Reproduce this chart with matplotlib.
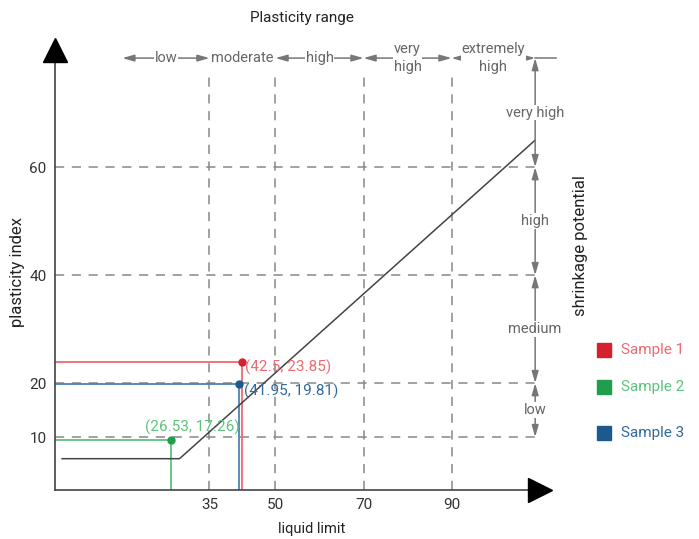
import numpy as np
import matplotlib.pyplot as plt
from matplotlib.patches import Rectangle

plt.rcParams['font.family'] = ['Roboto', 'DejaVu Sans']

# A-line (PI = 0.73 (LL - 20), cut at 6)
aline_ll = [1.5, 28.2, 109.0]
aline_pi = [6.0, 6.0, 65.0]

# samples
sample_names = ['Sample 1', 'Sample 2', 'Sample 3']
sample_ll = [42.5, 26.3, 41.8]
sample_pi = [23.85, 9.4, 19.81]
sample_text = ['(42.5, 23.85)', '(26.53, 17.26)', '(41.95, 19.81)']
sample_colors = ['#d7202e', '#1f9e4e', '#1c5a8e']
line_colors = ['#ec6a70', '#5cc27e', '#4a84b8']
text_offsets = [(1.5, -3.5), (-18.5, 9), (3.5, -5)]

# plasticity range (liquid limit)
ll_bounds = [15.2, 35, 50, 70, 90, 109.0]
ll_names = ['low', 'moderate', 'high', 'very\nhigh', 'extremely\nhigh']
ll_ticks = [35, 50, 70, 90]

# shrinkage potential (plasticity index)
pi_bounds = [10, 20, 40, 60, 80.2]
pi_names = ['low', 'medium', 'high', 'very high']
pi_ticks = [10, 20, 40, 60]

W, H = 699, 539
fig = plt.figure(figsize=(W / 100, H / 100), dpi=100)
ax = fig.add_axes([55 / W, 49 / H, 485 / W, 440 / H])
x0, x1 = -0.1, 110.1
y0, y1 = 0.2, 81.7
ax.set_xlim(x0, x1)
ax.set_ylim(y0, y1)

for s in ['top', 'right']:
    ax.spines[s].set_visible(False)
for s in ['left', 'bottom']:
    ax.spines[s].set_color('#444444')
    ax.spines[s].set_linewidth(1.2)

# axis arrow heads
ax.plot(x0, y1, marker='^', ms=17, color='black', clip_on=False, zorder=5)
ax.plot(x1, y0, marker='>', ms=17, color='black', clip_on=False, zorder=5)

ax.set_xticks(ll_ticks)
ax.set_yticks(pi_ticks)
ax.tick_params(length=0, labelsize=11, labelcolor='#333333', pad=6)

dash = dict(color='#888888', lw=1.1, dashes=(6, 5))
for p in pi_ticks:
    ax.plot([x0, ll_bounds[-1]], [p, p], **dash, zorder=1)
for l in ll_ticks:
    ax.plot([l, l], [y0, 78], **dash, zorder=1)

ax.plot(aline_ll, aline_pi, color='#444444', lw=1.1, zorder=3)

for i in range(3):
    ax.plot([x0, sample_ll[i], sample_ll[i]], [sample_pi[i], sample_pi[i], y0],
            color=line_colors[i], lw=1.3, zorder=2)
    ax.plot(sample_ll[i], sample_pi[i], 'o', ms=5, color=sample_colors[i], zorder=4)
    ax.annotate(sample_text[i], (sample_ll[i], sample_pi[i]), xytext=text_offsets[i],
                textcoords='offset points', ha='left', va='center', fontsize=11,
                color=line_colors[i] if i != 2 else '#2f6a9e', zorder=4)

# top range arrows
gray = '#777777'
arrow = dict(arrowstyle='<|-|>,head_length=0.7,head_width=0.2', color=gray, lw=1.1,
             mutation_scale=10, shrinkA=0, shrinkB=0)
top_y = 80.2
for i in range(len(ll_names)):
    a, b = ll_bounds[i], ll_bounds[i + 1]
    ax.annotate('', xy=(a, top_y), xytext=(b, top_y), arrowprops=arrow,
                annotation_clip=False)
    ax.text((a + b) / 2, top_y, ll_names[i], ha='center', va='center', fontsize=10.5,
            color='#666666', linespacing=1.3,
            bbox=dict(facecolor='white', edgecolor='none', pad=0.5), clip_on=False)
ax.plot([ll_bounds[-1], 113.7], [top_y, top_y], color=gray, lw=1.1, clip_on=False)

# right shrinkage arrows
right_x = ll_bounds[-1]
for i in range(len(pi_names)):
    a, b = pi_bounds[i], pi_bounds[i + 1]
    ax.annotate('', xy=(right_x, a), xytext=(right_x, b), arrowprops=arrow,
                annotation_clip=False)
    ax.text(right_x, (a + b) / 2, pi_names[i], ha='center', va='center', fontsize=10.5,
            color='#666666', bbox=dict(facecolor='white', edgecolor='none', pad=0.5),
            clip_on=False)

fig.text(302 / W, 1 - 18 / H, 'Plasticity range', ha='center', va='center', fontsize=11, color='#222222')
fig.text(312 / W, 1 - 529 / H, 'liquid limit', ha='center', va='center', fontsize=10.5, color='#222222')
fig.text(18 / W, 1 - 272 / H, 'plasticity index', ha='center', va='center', fontsize=12,
         rotation=90, color='#222222')
fig.text(580 / W, 1 - 246 / H, 'shrinkage potential', ha='center', va='center', fontsize=12,
         rotation=90, color='#222222')

# legend
leg_y = [350, 387, 433]
for i in range(3):
    fig.add_artist(Rectangle((597 / W, 1 - (leg_y[i] + 7) / H), 14 / W, 14 / H,
                             transform=fig.transFigure, color=sample_colors[i]))
    fig.text(621 / W, 1 - leg_y[i] / H, sample_names[i], ha='left', va='center',
             fontsize=11, color=line_colors[i] if i != 2 else '#2f6a9e')

plt.savefig('out.png', format='png')
